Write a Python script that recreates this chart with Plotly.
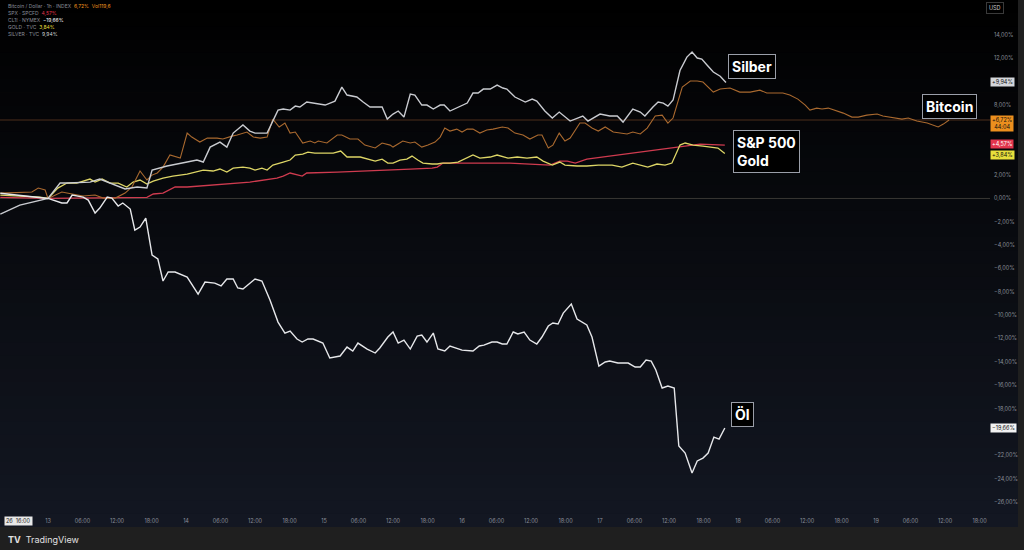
import plotly.graph_objects as go
import pandas as pd

BASE = pd.Timestamp("2026-01-13 00:00")

# ---- data (hours since day 13 00:00, percent change) ----
btc_hours = [-8.3, -4.9, -2.8, -1.7, -0.5, 0, 2.4, 4.2, 6.1, 8.2,
             9.6, 11.7, 13.4, 14.6, 16.0, 17.2, 18.1, 19.0, 20.0, 21.2,
             23.0, 24.2, 25.0, 26.4, 27.7, 29.4, 30.4, 32.0, 32.9, 34.6,
             35.7, 36.9, 38.1, 39.1, 40.2, 41.2, 42.1, 43.0, 44.3, 45.6,
             46.4, 47.0, 48.5, 50.3, 51.1, 52.5, 53.9, 55.1, 56.9, 58.1,
             59.5, 60.0, 61.7, 63.0, 63.8, 65.0, 66.1, 67.3, 68.2, 69.0,
             69.9, 71.1, 72.0, 72.9, 73.9, 75.1, 76.3, 77.4, 79.0, 80.0,
             81.2, 82.6, 83.8, 85.2, 85.9, 87.0, 87.8, 88.9, 89.9, 90.8,
             92.5, 93.4, 94.6, 95.7, 96.9, 98.3, 99.5, 100.7, 101.7, 103.0,
             104.2, 105.6, 106.8, 107.8, 108.7, 110.3, 111.7, 112.9, 113.9, 115.7,
             116.9, 118.6, 120.3, 122.1, 123.8, 125.0, 126.8, 127.8, 129.0, 130.4,
             131.7, 132.5, 133.7, 134.6, 135.7, 137.2, 138.3, 139.8, 140.9, 142.4,
             144.2, 145.2, 147.0, 148.5, 149.6, 151.1, 152.9, 153.9, 154.8, 155.7,
             156.7]
btc_pct = [0.46, 0.55, 0.55, 0.89, 0.72, 0, 0.55, 0.38, 0.21, 0.29,
           0.03, 0.03, 0.46, 0.98, 2.35, 1.58, 2.00, 2.18, 2.69, 3.72,
           3.46, 5.60, 5.26, 4.83, 5.17, 5.17, 5.09, 5.34, 5.43, 5.69,
           5.26, 5.17, 5.26, 6.80, 6.12, 6.46, 5.60, 5.69, 4.75, 4.92,
           4.75, 4.92, 4.75, 5.43, 5.43, 5.09, 5.09, 4.57, 4.32, 4.75,
           4.57, 4.40, 4.92, 4.75, 4.83, 4.40, 4.57, 4.83, 5.26, 6.03,
           5.77, 5.94, 5.69, 5.94, 5.94, 5.60, 5.86, 5.94, 6.12, 6.03,
           5.60, 5.43, 5.09, 5.43, 5.43, 4.32, 4.57, 5.60, 4.92, 5.17,
           6.46, 6.46, 6.03, 5.77, 6.12, 5.69, 5.60, 5.52, 5.69, 5.52,
           6.03, 7.06, 7.14, 6.46, 6.89, 9.54, 10.06, 10.06, 9.97, 9.11,
           9.37, 9.46, 9.11, 9.11, 9.28, 9.03, 9.03, 9.03, 8.86, 8.51,
           8.00, 7.57, 7.74, 7.66, 7.74, 7.49, 7.31, 6.97, 6.97, 7.14,
           7.23, 7.06, 6.89, 6.80, 6.89, 6.63, 6.46, 6.29, 6.12, 6.37,
           6.72]

spx_hours = [-8.3, 0, 17.2, 18.3, 20.0, 22.1, 24.2, 35.1, 39.8, 40.9,
             42.1, 43.3, 44.2, 45.0, 50.3, 63.0, 66.8, 67.7, 68.7, 80.3,
             87.3, 89.0, 90.3, 91.7, 93.7, 113.4, 117.7]
spx_pct = [0.10, 0, 0.10, 0.38, 0.46, 0.98, 0.98, 1.40, 1.75, 1.92,
           2.18, 2.00, 1.92, 2.18, 2.26, 2.52, 2.60, 2.69, 3.03, 3.03,
           2.86, 3.20, 3.20, 3.03, 3.37, 4.66, 4.57]

oil_hours = [-8.3, -4.9, 0, 2.4, 3.3, 4.2, 6.1, 7.0, 8.2, 9.0,
             10.3, 11.1, 12.2, 13.0, 14.3, 15.1, 16.0, 17.0, 18.1, 19.1,
             20.0, 20.9, 22.1, 24.2, 26.1, 27.3, 29.0, 30.1, 31.1, 32.2,
             33.0, 33.9, 36.0, 37.2, 38.6, 40.0, 41.2, 42.1, 43.3, 44.2,
             45.2, 46.1, 47.8, 49.0, 50.8, 52.0, 53.0, 53.9, 55.5, 56.9,
             57.7, 59.1, 60.0, 60.9, 61.9, 63.0, 64.2, 65.0, 65.9, 67.0,
             67.8, 69.0, 69.9, 72.0, 73.9, 75.0, 75.8, 77.2, 78.1, 79.0,
             79.8, 80.9, 81.7, 82.8, 83.8, 85.0, 85.9, 87.0, 87.8, 88.7,
             89.6, 91.0, 92.0, 93.7, 94.6, 95.8, 96.9, 97.7, 99.1, 100.9,
             102.1, 103.0, 104.0, 104.9, 105.7, 106.8, 107.8, 108.9, 109.7, 110.8,
             112.0, 112.9, 113.9, 114.8, 115.8, 116.7, 117.7]
oil_pct = [0.45, 0.25, 0, -0.39, -0.39, 0.29, 0.12, -0.14, -1.25, -0.82,
           0.12, 0.03, -0.65, -0.39, -0.91, -2.71, -2.45, -1.68, -4.85, -5.19,
           -7.07, -6.30, -6.30, -6.73, -8.19, -7.16, -7.25, -7.50, -6.90, -6.90,
           -7.67, -7.76, -6.90, -7.07, -8.70, -10.59, -11.53, -11.36, -12.04, -12.30,
           -12.04, -12.04, -12.39, -13.67, -13.50, -12.73, -13.07, -12.39, -12.90, -13.24,
           -12.81, -11.87, -11.44, -12.39, -12.13, -12.90, -11.79, -11.70, -12.30, -11.53,
           -12.90, -13.07, -12.64, -12.99, -13.07, -12.64, -12.56, -12.30, -12.30, -12.47,
           -12.47, -11.44, -11.61, -11.44, -12.13, -12.47, -11.87, -10.93, -10.67, -10.76,
           -9.82, -9.04, -10.33, -10.84, -11.87, -14.36, -14.01, -13.93, -14.10, -14.10,
           -14.44, -14.44, -13.84, -13.93, -14.70, -16.24, -16.07, -16.24, -21.21, -21.81,
           -23.52, -22.49, -22.24, -21.81, -20.44, -20.61, -19.66]

gold_hours = [-8.3, -4.9, -1.4, 0, 1.7, 3.3, 5.0, 7.3, 8.2, 9.4,
              10.8, 12.2, 13.7, 14.8, 16.0, 17.2, 18.3, 20.0, 21.7, 24.2,
              25.9, 27.0, 28.7, 29.9, 31.1, 32.2, 33.9, 35.1, 36.0, 37.2,
              38.1, 39.1, 40.9, 42.1, 43.0, 44.3, 45.2, 46.4, 47.8, 49.6,
              50.9, 52.0, 54.3, 55.5, 56.9, 58.1, 59.1, 60.0, 61.2, 62.4,
              63.3, 64.3, 65.2, 66.8, 67.7, 68.5, 69.9, 71.3, 72.9, 73.9,
              75.1, 76.9, 78.1, 79.1, 80.0, 81.6, 83.3, 85.0, 86.1, 87.7,
              88.5, 89.0, 89.9, 92.0, 93.7, 95.7, 98.1, 99.8, 101.7, 103.3,
              104.3, 105.9, 107.3, 108.5, 109.9, 110.8, 112.2, 113.9, 115.5, 116.5,
              117.7]
gold_pct = [0.29, 0.21, 0.12, 0, 0.89, 1.32, 1.32, 1.66, 1.40, 1.66,
            1.32, 1.32, 0.98, 1.40, 1.58, 1.23, 1.49, 1.75, 1.92, 2.09,
            2.26, 2.43, 2.35, 2.52, 2.26, 2.60, 2.69, 2.60, 2.43, 2.60,
            2.43, 2.86, 3.12, 3.29, 3.72, 3.80, 3.97, 3.89, 3.89, 3.89,
            4.06, 3.55, 3.55, 3.37, 3.20, 3.37, 3.03, 3.03, 3.29, 3.37,
            3.63, 3.29, 3.03, 2.95, 2.95, 3.03, 3.03, 3.12, 3.46, 3.72,
            3.46, 3.55, 3.72, 3.55, 3.46, 3.55, 3.46, 3.55, 3.20, 2.86,
            3.03, 3.12, 2.86, 2.78, 2.78, 2.86, 2.86, 2.69, 3.03, 2.78,
            2.69, 2.95, 2.86, 3.03, 4.57, 4.75, 4.57, 4.49, 4.40, 4.32,
            3.84]

silver_hours = [-8.3, -4.9, 0, 2.1, 3.3, 7.3, 9.0, 11.3, 13.4, 15.5,
                17.2, 18.1, 19.5, 20.7, 24.2, 25.9, 27.0, 28.2, 29.9, 31.1,
                32.2, 33.9, 35.1, 36.0, 38.1, 40.0, 40.9, 42.1, 43.0, 43.8,
                45.0, 46.1, 48.2, 49.9, 51.1, 52.0, 53.7, 54.8, 56.0, 58.1,
                59.0, 60.0, 60.9, 61.9, 63.0, 63.8, 65.0, 65.9, 67.0, 68.2,
                68.9, 69.9, 71.3, 72.9, 73.9, 74.8, 75.7, 76.9, 78.1, 79.1,
                79.8, 81.2, 83.0, 84.2, 85.0, 86.4, 87.7, 88.9, 90.8, 92.2,
                93.0, 93.9, 96.0, 97.7, 99.0, 100.0, 101.7, 103.0, 103.8, 105.2,
                106.1, 107.0, 107.8, 108.7, 109.9, 111.1, 112.0, 112.9, 113.7, 114.6,
                115.7, 116.9, 117.9]
silver_pct = [-1.34, -0.57, 0, 1.32, 1.32, 1.40, 1.66, 1.23, 0.81, 0.98,
              0.89, 2.43, 2.60, 2.78, 3.12, 3.29, 3.12, 4.40, 4.83, 4.40,
              5.60, 6.29, 5.77, 5.60, 5.60, 7.57, 7.66, 7.57, 7.91, 7.83,
              8.26, 8.17, 8.00, 8.34, 9.54, 8.86, 8.69, 8.26, 7.83, 7.83,
              6.80, 7.23, 7.49, 6.97, 8.94, 8.86, 8.00, 8.00, 7.66, 8.00,
              8.00, 7.49, 7.83, 8.17, 9.03, 9.03, 9.37, 9.37, 9.71, 9.46,
              9.37, 8.69, 8.26, 8.51, 8.34, 7.49, 6.89, 7.40, 6.63, 6.89,
              7.06, 6.63, 7.23, 7.06, 7.06, 6.54, 7.66, 7.40, 7.06, 7.83,
              8.26, 8.17, 7.91, 8.43, 10.96, 12.11, 12.54, 12.03, 11.94, 11.43,
              10.83, 10.47, 9.94]

tick_hours = list(range(0, 163, 6))
tick_text = [str(13 + h // 24) if h % 24 == 0 else f"{h % 24:02d}:00" for h in tick_hours]
y_ticks = list(range(-26, 15, 2))
y_ticks_hidden = [10, 6, 4, -20]   # covered by the value badges in the original
last_values = {"SILVER": 9.94, "BTC": 6.72, "SPX": 4.57, "GOLD": 3.84, "OIL": -19.66}


def to_time(hours):
    return [(BASE + pd.Timedelta(hours=h)).strftime("%Y-%m-%d %H:%M") for h in hours]


def fmt_pct(v, sign=False):
    s = f"{abs(v):.2f}".replace(".", ",") + "%"
    if v < 0:
        return "\u2212" + s
    return ("+" + s) if sign else s


fig = go.Figure()

W, H = 1024, 550
ML, MR, MT, MB = 0, 34, 0, 38
PW, PH = W - ML - MR, H - MT - MB


def px(x):
    return (x - ML) / PW


def py(y):
    return 1 - (y - MT) / PH


# background gradient (black top -> navy bottom)
N = 40
top, bot = (0, 0, 0), (19, 23, 34)
for i in range(N):
    y0 = i * 527 / N
    y1 = (i + 1) * 527 / N + 0.6
    t = (i + 0.5) / N
    c = tuple(int(round(top[k] + (bot[k] - top[k]) * t)) for k in range(3))
    fig.add_shape(type="rect", xref="paper", yref="paper", x0=px(0), x1=px(1018),
                  y0=py(min(y1, 527)), y1=py(y0), fillcolor=f"rgb{c}", line_width=0, layer="below")

# reference lines
fig.add_shape(type="line", xref="paper", yref="y", x0=0, x1=1, y0=0, y1=0,
              line=dict(color="rgba(120,110,100,0.45)", width=1), layer="below")
fig.add_shape(type="line", xref="paper", yref="y", x0=0, x1=1,
              y0=last_values["BTC"], y1=last_values["BTC"],
              line=dict(color="rgba(150,90,45,0.5)", width=1), layer="below")

series = [
    ("SPX", spx_hours, spx_pct, "#cf3b4f", 1.3),
    ("GOLD", gold_hours, gold_pct, "#ddd566", 1.3),
    ("BTC", btc_hours, btc_pct, "#a9692f", 1.1),
    ("SILVER", silver_hours, silver_pct, "#c9cbd0", 1.4),
    ("OIL", oil_hours, oil_pct, "#e6e7ea", 1.4),
]
for name, hrs, vals, col, w in series:
    fig.add_trace(go.Scatter(x=to_time(hrs), y=vals, mode="lines", name=name,
                             line=dict(color=col, width=w), showlegend=False,
                             hoverinfo="skip"))

# boxed labels
box = dict(bgcolor="#000000", bordercolor="#9a9ea8", borderwidth=1, borderpad=3,
           font=dict(family="Inter", size=14, color="#ffffff"), showarrow=False,
           xref="x", yref="y")
t_of = lambda h: (BASE + pd.Timedelta(hours=h)).strftime("%Y-%m-%d %H:%M")
fig.add_annotation(x=t_of(122.5), y=11.34, text="<b>Silber</b>", **box)
fig.add_annotation(x=t_of(156.7), y=7.91, text="<b>Bitcoin</b>", **box)
fig.add_annotation(x=t_of(125.0), y=4.02, text="<b>S&P 500<br>Gold</b>", align="left", **box)
fig.add_annotation(x=t_of(120.8), y=-18.55, text="<b>Öl</b>", **box)


# right-axis value badges
def badge(y, text, bg, fg):
    fig.add_annotation(xref="paper", yref="y", x=px(990), y=y, xanchor="left", yanchor="middle",
                       showarrow=False, borderpad=1, text=text, bgcolor=bg,
                       font=dict(family="Inter", size=5.5, color=fg))


badge(last_values["SILVER"], fmt_pct(last_values["SILVER"], True), "#d4d6da", "#111")
badge(last_values["BTC"] - 0.28, fmt_pct(last_values["BTC"], True) + "<br>44:04", "#ec8f1e", "#111")
badge(last_values["SPX"] + 0.1, fmt_pct(last_values["SPX"], True), "#e2354d", "#fff")
badge(last_values["GOLD"] - 0.1, fmt_pct(last_values["GOLD"], True), "#e7df3c", "#111")
badge(last_values["OIL"], fmt_pct(last_values["OIL"]), "#f2f2f2", "#111")

# USD box
fig.add_annotation(xref="paper", yref="paper", x=px(1004), y=py(8), yanchor="middle", text="USD",
                   showarrow=False, bgcolor="#000", bordercolor="#3a3a3a", borderwidth=1,
                   borderpad=2, font=dict(family="Inter", size=5.5, color="#c8c8c8"))

# legend text (top-left)
g = "#8a8e99"
legend_rows = [
    "Bitcoin / Dollar · 1h · INDEX  <span style='color:#f0941e'>6,72%</span>  <span style='color:#f0941e'>Vol119,6</span>",
    f"SPX · SPCFD  <span style='color:#e2354d'>{fmt_pct(last_values['SPX'])}</span>",
    f"CL1! · NYMEX  <span style='color:#ffffff'>{fmt_pct(last_values['OIL'])}</span>",
    f"GOLD · TVC  <span style='color:#e7df3c'>{fmt_pct(last_values['GOLD'])}</span>",
    f"SILVER · TVC  <span style='color:#d4d6da'>{fmt_pct(last_values['SILVER'])}</span>",
]
for i, row in enumerate(legend_rows):
    fig.add_annotation(xref="paper", yref="paper", x=px(6), y=py(6 + i * 7), xanchor="left",
                       yanchor="middle", text=row, showarrow=False,
                       font=dict(family="Inter", size=5, color=g))

# time label bottom-left
fig.add_annotation(xref="paper", yref="paper", x=px(4), y=py(521), xanchor="left", yanchor="middle",
                   text="26  16:00", showarrow=False, bgcolor="#e8e8e8", borderpad=1,
                   font=dict(family="Inter", size=5.5, color="#222"))

# footer: TradingView
fig.add_shape(type="rect", xref="paper", yref="paper", x0=px(0), x1=px(1024), y0=py(550), y1=py(527),
              fillcolor="#1f1f1f", line_width=0, layer="below")
fig.add_annotation(xref="paper", yref="paper", x=px(6), y=py(539), xanchor="left", yanchor="middle",
                   text="<b>TV</b>  TradingView", showarrow=False,
                   font=dict(family="Inter", size=9, color="#e0e0e0"))

fig.update_layout(
    width=W, height=H, autosize=False,
    margin=dict(l=ML, r=MR, t=MT, b=MB),
    paper_bgcolor="#1f1f1f", plot_bgcolor="rgba(0,0,0,0)",
    xaxis=dict(type="date", range=[t_of(-8.35), t_of(163.83)], showgrid=False, zeroline=False,
               showline=False, tickvals=to_time(tick_hours), ticktext=tick_text, ticks="",
               ticklabelstandoff=4,
               tickfont=dict(family="Inter", size=5.5, color="#8a8e99")),
    yaxis=dict(side="right", range=[-26.86, 17.0], showgrid=False, zeroline=False, showline=False,
               tickvals=y_ticks,
               ticktext=["" if v in y_ticks_hidden else fmt_pct(v) for v in y_ticks],
               ticks="", ticklabelstandoff=3,
               tickfont=dict(family="Inter", size=5.5, color="#8a8e99")),
    font=dict(family="Inter"),
)

fig.write_html("out.html", config={"displayModeBar": False},
               post_script="document.body.style.margin='0';document.body.style.overflow='hidden';")
